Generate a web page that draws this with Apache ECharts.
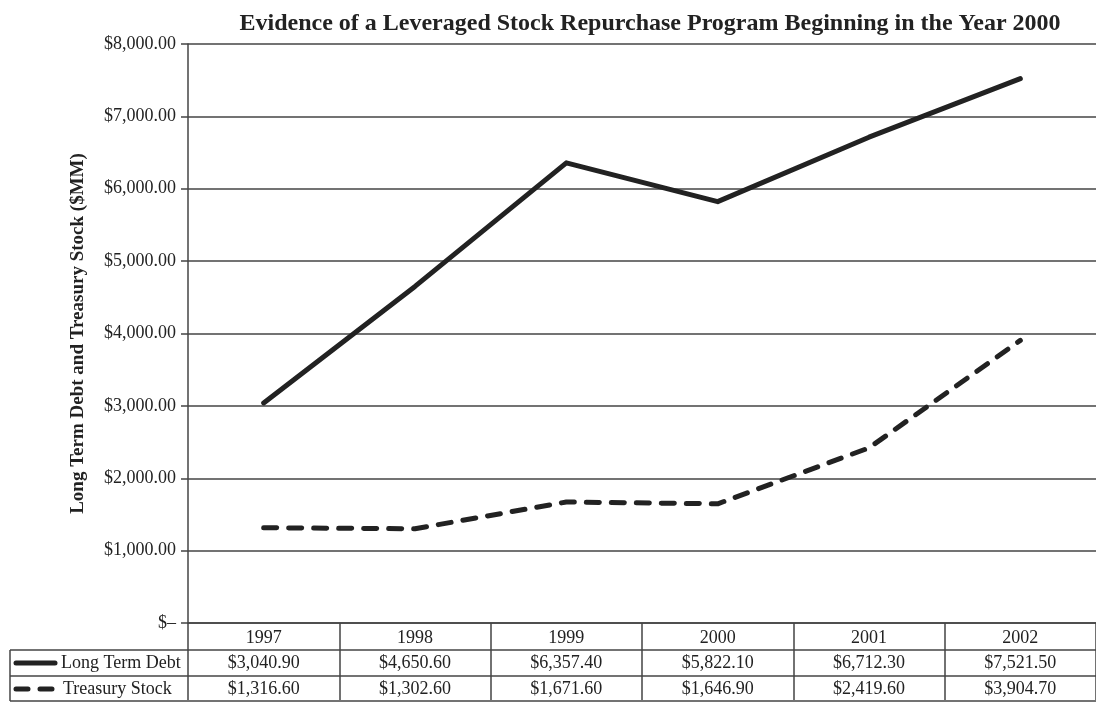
<!DOCTYPE html>
<html>
<head>
<meta charset="utf-8">
<script src="https://cdn.jsdelivr.net/npm/echarts@6/dist/echarts.min.js"></script>
<style>
  html, body { margin: 0; padding: 0; background: #fff; }
  #chart { width: 1096px; height: 702px; }
</style>
</head>
<body>
<div id="chart"></div>
<script>
// data
const years = ['1997', '1998', '1999', '2000', '2001', '2002']
const longTermDebt = [3040.9, 4650.6, 6357.4, 5822.1, 6712.3, 7521.5]
const treasuryStock = [1316.6, 1302.6, 1671.6, 1646.9, 2419.6, 3904.7]
const yTickLabels = ['$–', '$1,000.00', '$2,000.00', '$3,000.00', '$4,000.00',
  '$5,000.00', '$6,000.00', '$7,000.00', '$8,000.00']

const FONT = '"Liberation Serif", "Times New Roman", serif'
const INK = '#222'
const GRID = '#444'

const money = (v) => '$' + v.toLocaleString('en-US', { minimumFractionDigits: 2, maximumFractionDigits: 2 })

const chart = echarts.init(document.getElementById('chart'))

const option = {
  animation: false,
  backgroundColor: '#fff',
  title: {
    text: 'Evidence of a Leveraged Stock Repurchase Program Beginning in the Year 2000',
    left: 645,
    textAlign: 'center',
    top: 7,
    textStyle: { fontFamily: FONT, fontSize: 24, fontWeight: 'bold', color: INK }
  },
  grid: { left: 188, top: 44, width: 912, bottom: 79, containLabel: false },
  xAxis: {
    type: 'category',
    data: years,
    boundaryGap: true,
    axisLine: { show: true, lineStyle: { color: GRID, width: 1.5 } },
    axisTick: { show: true, inside: false, length: 77, interval: 0, lineStyle: { color: GRID, width: 1.5 } },
    axisLabel: { show: true, interval: 0, margin: 6, fontFamily: FONT, fontSize: 18, color: INK },
    splitLine: { show: false }
  },
  yAxis: {
    type: 'value',
    min: 0,
    max: 8000,
    interval: 1000,
    name: 'Long Term Debt and Treasury Stock ($MM)',
    nameLocation: 'middle',
    nameRotate: 90,
    nameGap: 100,
    nameTextStyle: { fontFamily: FONT, fontSize: 19, fontWeight: 'bold', color: INK },
    axisLine: { show: true, lineStyle: { color: GRID, width: 1.5 } },
    axisTick: { show: true, length: 7, lineStyle: { color: GRID, width: 1.5 } },
    axisLabel: {
      margin: 12,
      fontFamily: FONT,
      fontSize: 18,
      color: INK,
      formatter: (v) => yTickLabels[Math.round(v / 1000)]
    },
    splitLine: { show: true, lineStyle: { color: GRID, width: 1.5 } }
  },
  series: [
    {
      name: 'Long Term Debt',
      type: 'line',
      data: longTermDebt,
      symbol: 'none',
      lineStyle: { color: INK, width: 5, cap: 'round', join: 'round' }
    },
    {
      name: 'Treasury Stock',
      type: 'line',
      data: treasuryStock,
      symbol: 'none',
      lineStyle: { color: INK, width: 5, type: [13, 12], cap: 'round', join: 'round' }
    }
  ]
}

chart.setOption(option)

// data table under the plot
const rowDebtY = 663
const rowStockY = 689
const tableLeft = 10
const graphics = []

const hline = (x1, x2, y) => ({
  type: 'line',
  shape: { x1: x1, y1: y, x2: x2, y2: y },
  style: { stroke: GRID, lineWidth: 1.5 },
  silent: true
})

graphics.push(hline(tableLeft, 1096, 650))
graphics.push(hline(tableLeft, 1096, 676))
graphics.push(hline(tableLeft, 1096, 701))
graphics.push({
  type: 'line',
  shape: { x1: tableLeft, y1: 650, x2: tableLeft, y2: 701 },
  style: { stroke: GRID, lineWidth: 1.5 },
  silent: true
})

// legend keys
graphics.push({
  type: 'line',
  shape: { x1: 16, y1: rowDebtY, x2: 55, y2: rowDebtY },
  style: { stroke: INK, lineWidth: 5, lineCap: 'round' },
  silent: true
})
graphics.push({
  type: 'line',
  shape: { x1: 16, y1: rowStockY, x2: 57, y2: rowStockY },
  style: { stroke: INK, lineWidth: 5, lineCap: 'round', lineDash: [12, 12] },
  silent: true
})
graphics.push({
  type: 'text',
  style: { text: 'Long Term Debt', x: 61, y: rowDebtY, verticalAlign: 'middle',
    font: '18px ' + FONT, fill: INK },
  silent: true
})
graphics.push({
  type: 'text',
  style: { text: 'Treasury Stock', x: 63, y: rowStockY, verticalAlign: 'middle',
    font: '18px ' + FONT, fill: INK },
  silent: true
})

years.forEach((yr, i) => {
  const cx = chart.convertToPixel({ xAxisIndex: 0 }, yr)
  graphics.push({
    type: 'text',
    style: { text: money(longTermDebt[i]), x: cx, y: rowDebtY, align: 'center',
      verticalAlign: 'middle', font: '18px ' + FONT, fill: INK },
    silent: true
  })
  graphics.push({
    type: 'text',
    style: { text: money(treasuryStock[i]), x: cx, y: rowStockY, align: 'center',
      verticalAlign: 'middle', font: '18px ' + FONT, fill: INK },
    silent: true
  })
})

chart.setOption({ graphic: graphics })
</script>
</body>
</html>
